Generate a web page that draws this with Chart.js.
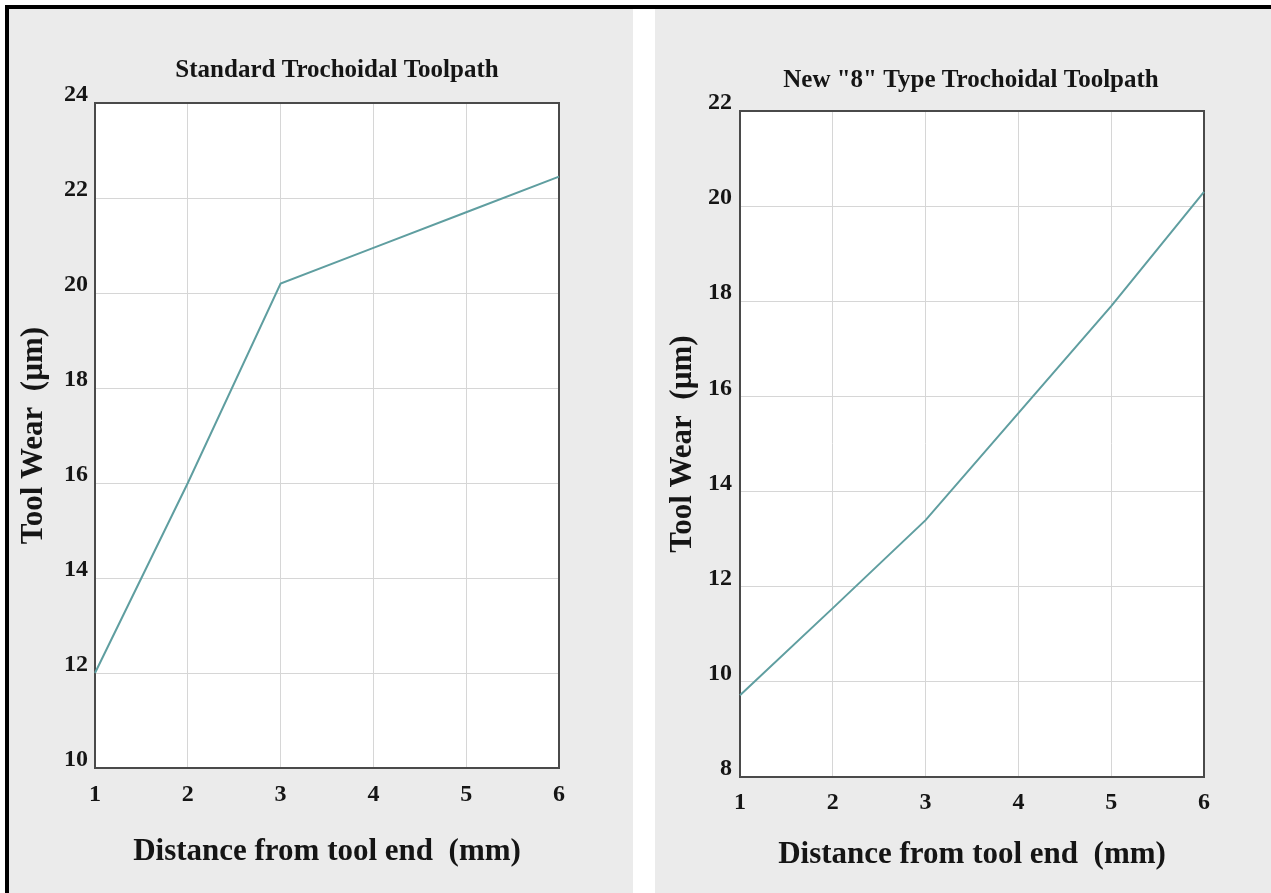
<!DOCTYPE html>
<html>
<head>
<meta charset="utf-8">
<script src="https://cdn.jsdelivr.net/npm/chart.js@4"></script>
<style>
  body { margin: 0; width: 1271px; height: 893px; position: relative; overflow: hidden; background: #fff; }
  .bar { position: absolute; background: #000; }
  .panel { position: absolute; background: #ebebeb; }
  canvas { position: absolute; }
</style>
</head>
<body>
<div class="bar" style="left:5px;top:5px;width:1266px;height:4px"></div>
<div class="bar" style="left:5px;top:5px;width:4px;height:888px"></div>
<div class="panel" style="left:9px;top:9px;width:624px;height:884px"></div>
<div class="panel" style="left:655px;top:9px;width:616px;height:884px"></div>
<canvas id="standard" width="656" height="884" style="left:9px;top:9px"></canvas>
<canvas id="figure8" width="632" height="884" style="left:655px;top:9px"></canvas>
<script>
// distance from tool end (mm)
const distance = ['1', '2', '3', '4', '5', '6'];
// tool wear (um)
const standardWear = [12.0, 16.0, 20.2, 20.95, 21.7, 22.45];
const figure8Wear = [9.72, 11.55, 13.4, 15.65, 17.9, 20.3];
const standardTicks = { min: 10, max: 24, step: 2 };
const figure8Ticks = { min: 8, max: 22, step: 2 };

const SERIF = "'Liberation Serif', 'Times New Roman', serif";
const INK = '#151515';
const FRAME = '#4a4a4a';

// white plot area on the grey panel
const plotBackground = {
  id: 'plotBackground',
  beforeDraw(chart) {
    const { ctx, chartArea: a } = chart;
    ctx.save();
    ctx.fillStyle = '#ffffff';
    ctx.fillRect(a.left, a.top, a.right - a.left, a.bottom - a.top);
    ctx.restore();
  }
};

/**
 * Build one panel. Geometry holds pixel sizes of the boxes round the plot.
 */
function makeChart(id, title, wear, ticks, g) {
  return new Chart(document.getElementById(id), {
    type: 'line',
    data: {
      labels: distance,
      datasets: [{
        data: wear,
        borderColor: '#5f9ea0',
        borderWidth: 2,
        pointRadius: 0,
        tension: 0,
        xAxisID: 'x',
        yAxisID: 'y'
      }]
    },
    plugins: [plotBackground],
    options: {
      responsive: false,
      animation: false,
      devicePixelRatio: 1,
      layout: { padding: 0 },
      plugins: {
        legend: { display: false },
        tooltip: { enabled: false },
        title: {
          display: true,
          text: title,
          color: INK,
          font: { family: SERIF, size: 25, weight: 'bold', lineHeight: 1.2 },
          padding: { top: g.titleTop, bottom: g.titleBottom }
        }
      },
      scales: {
        x: {
          position: 'bottom',
          afterFit: s => { s.height = g.xHeight; },
          grid: { color: '#d6d6d6', lineWidth: 1, drawTicks: false },
          border: { color: FRAME, width: 2 },
          ticks: {
            color: INK, padding: g.xTickPad, maxRotation: 0, autoSkip: false,
            font: { family: SERIF, size: 24, weight: 'bold', lineHeight: 1.2 }
          },
          title: {
            display: true,
            text: 'Distance from tool end  (mm)',
            color: INK,
            font: { family: SERIF, size: 31, weight: 'bold', lineHeight: 1.2 },
            padding: { top: 0, bottom: g.xTitlePad }
          }
        },
        x2: {
          position: 'top',
          afterFit: s => { s.height = 0; },
          grid: { display: false },
          border: { color: FRAME, width: 2 },
          ticks: { display: false }
        },
        y: {
          position: 'left',
          min: ticks.min,
          max: ticks.max,
          afterFit: s => { s.width = g.yWidth; },
          grid: { color: '#d6d6d6', lineWidth: 1, drawTicks: false },
          border: { color: FRAME, width: 2 },
          ticks: {
            stepSize: ticks.step, color: INK, padding: g.yTickPad, labelOffset: -8,
            font: { family: SERIF, size: 24, weight: 'bold', lineHeight: 1.2 }
          },
          title: {
            display: true,
            text: 'Tool Wear  (\u00b5m)',
            color: INK,
            font: { family: SERIF, size: 31, weight: 'bold', lineHeight: 1.2 },
            padding: { top: g.yTitlePad, bottom: 0 }
          }
        },
        y2: {
          position: 'right',
          min: ticks.min,
          max: ticks.max,
          afterFit: s => { s.width = g.rightGap; },
          grid: { display: false },
          border: { color: FRAME, width: 2 },
          ticks: { display: false }
        }
      }
    }
  });
}

// title box = top pad + 30 (25px * 1.2) + bottom pad
makeChart('standard', 'Standard Trochoidal Toolpath', standardWear, standardTicks, {
  titleTop: 47, titleBottom: 17,
  yWidth: 86, yTickPad: 7, yTitlePad: 6,
  xHeight: 125, xTickPad: 12, xTitlePad: 22,
  rightGap: 106
});

makeChart('figure8', 'New "8" Type Trochoidal Toolpath', figure8Wear, figure8Ticks, {
  titleTop: 57, titleBottom: 15,
  yWidth: 85, yTickPad: 8, yTitlePad: 9,
  xHeight: 116, xTickPad: 11, xTitlePad: 19,
  rightGap: 83
});
</script>
</body>
</html>
